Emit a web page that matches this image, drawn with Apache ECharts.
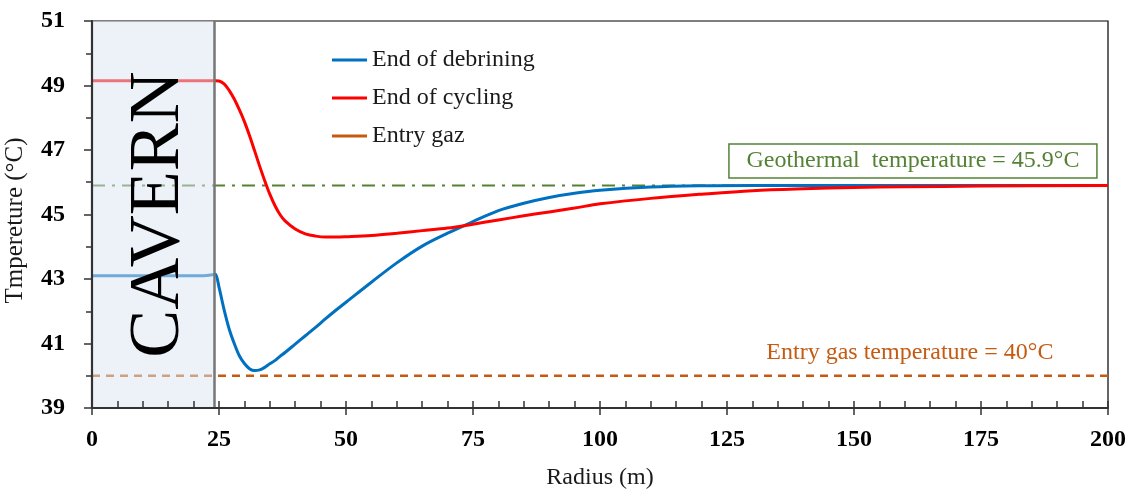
<!DOCTYPE html>
<html>
<head>
<meta charset="utf-8">
<script src="https://cdn.jsdelivr.net/npm/echarts@6/dist/echarts.min.js"></script>
<style>
  html, body { margin: 0; padding: 0; background: #ffffff; }
  #chart { width: 1134px; height: 492px; }
</style>
</head>
<body>
<div id="chart"></div>
<script>
// Radial temperature profiles around the cavern (radius in m, temperature in °C)
const radius = [0, 22, 24, 24.3, 25, 26, 27, 28, 29, 30, 31, 32, 33, 34, 35, 36, 37, 38, 40, 42, 44, 46, 48, 50,
  55, 60, 65, 70, 75, 80, 85, 90, 95, 100, 110, 120, 130, 140, 150, 160, 175, 200];
const debrining = [43.1, 43.1, 43.14, 43.15, 42.75, 42.05, 41.45, 41.0, 40.62, 40.38, 40.22, 40.16, 40.18, 40.26,
  40.37, 40.47, 40.6, 40.72, 40.98, 41.24, 41.5, 41.77, 42.03, 42.28,
  42.9, 43.5, 44.02, 44.42, 44.78, 45.12, 45.35, 45.53, 45.66, 45.75, 45.85, 45.89, 45.9, 45.9, 45.9, 45.9, 45.9, 45.9];
const cycling = [49.15, 49.15, 49.15, 49.15, 49.14, 49.05, 48.85, 48.58, 48.25, 47.88, 47.45, 46.98, 46.5, 46.05,
  45.63, 45.28, 45.0, 44.8, 44.55, 44.4, 44.33, 44.3, 44.3, 44.31,
  44.35, 44.42, 44.5, 44.58, 44.7, 44.83, 44.96, 45.08, 45.2, 45.33, 45.5, 45.63, 45.74, 45.8, 45.84, 45.86, 45.88, 45.9];
const entryGasTemp = 40;
const geothermalTemp = 45.9;
const cavernRadius = 24;
const xRange = [0, 200];
const yRange = [39, 51];
const seriesNames = ['End of debrining', 'End of cycling', 'Entry gaz'];
const geoLabel = 'Geothermal  temperature = ' + geothermalTemp + '°C';
const entryLabel = 'Entry gas temperature = ' + entryGasTemp + '°C';

const SERIF = '"Liberation Serif", "Times New Roman", serif';
const toPairs = (xs, ys) => xs.map((x, i) => [x, ys[i]]);

const chart = echarts.init(document.getElementById('chart'), null, { renderer: 'canvas' });

const option = {
  animation: false,
  backgroundColor: '#ffffff',
  grid: {
    left: 92, right: 26, top: 21, bottom: 84,
    containLabel: false,
    outerBoundsMode: 'none',
    show: true,
    borderColor: '#000000',
    borderWidth: 1.2,
    backgroundColor: 'transparent'
  },
  legend: {
    orient: 'vertical',
    left: 327,
    top: 43,
    itemWidth: 35,
    itemHeight: 3,
    itemGap: 14,
    icon: 'rect',
    data: seriesNames,
    selectedMode: false,
    textStyle: { fontFamily: SERIF, fontSize: 24, color: '#1a1a1a', lineHeight: 24 }
  },
  xAxis: [
    {
      type: 'value', min: xRange[0], max: xRange[1], interval: 25, z: 10,
      name: 'Radius (m)', nameLocation: 'middle', nameGap: 58,
      nameTextStyle: { fontFamily: SERIF, fontSize: 24, color: '#1a1a1a' },
      axisLine: { show: true, onZero: false, lineStyle: { color: '#333333', width: 2.2 } },
      axisTick: { show: true, inside: false, length: 7, lineStyle: { color: '#333333', width: 1.5 } },
      axisLabel: { margin: 20, fontFamily: SERIF, fontWeight: 'bold', fontSize: 24, color: '#000000' },
      splitLine: { show: false }
    },
    {
      // inner minor ticks every 5 m
      type: 'value', min: xRange[0], max: xRange[1], interval: 5, position: 'bottom', z: 10,
      axisLine: { show: false, onZero: false },
      axisTick: { show: true, inside: true, length: 7, lineStyle: { color: '#333333', width: 1.5 } },
      axisLabel: { show: false },
      splitLine: { show: false }
    }
  ],
  yAxis: {
    type: 'value', min: yRange[0], max: yRange[1], interval: 2, z: 10,
    name: 'Tmpereture (°C)', nameLocation: 'middle', nameGap: 64,
    nameTextStyle: { fontFamily: SERIF, fontSize: 25, color: '#1a1a1a', padding: [0, 12, 0, 0] },
    axisLine: { show: true, onZero: false, lineStyle: { color: '#333333', width: 2.2 } },
    axisTick: { show: true, inside: false, length: 8, lineStyle: { color: '#333333', width: 1.5 } },
    minorTick: { show: true, splitNumber: 2, length: 6, lineStyle: { color: '#333333', width: 1.5 } },
    axisLabel: { margin: 27, fontFamily: SERIF, fontWeight: 'bold', fontSize: 24, color: '#000000' },
    splitLine: { show: false }
  },
  series: [
    {
      name: seriesNames[0], type: 'line', data: toPairs(radius, debrining),
      showSymbol: false, smooth: 0.35, z: 3,
      itemStyle: { color: '#0070C0' },
      lineStyle: { color: '#0070C0', width: 3 }
    },
    {
      name: seriesNames[1], type: 'line', data: toPairs(radius, cycling),
      showSymbol: false, smooth: 0.35, z: 3,
      itemStyle: { color: '#FF0000' },
      lineStyle: { color: '#FF0000', width: 3 }
    },
    {
      name: seriesNames[2], type: 'line', data: [[xRange[0], entryGasTemp], [xRange[1], entryGasTemp]],
      showSymbol: false, z: 2,
      itemStyle: { color: '#C55A11' },
      lineStyle: { color: '#C55A11', width: 2.5, type: [8, 6] }
    },
    {
      name: 'Geothermal', type: 'line', data: [[xRange[0], geothermalTemp], [xRange[1], geothermalTemp]],
      showSymbol: false, z: 2,
      itemStyle: { color: '#548235' },
      lineStyle: { color: '#548235', width: 2.2, type: [13, 7, 3, 7] }
    },
    {
      // cavern zone, laid over the curves
      name: 'Cavern', type: 'line', data: [], z: 6,
      markArea: {
        silent: true, z: 8,
        itemStyle: { color: 'rgba(219,229,243,0.5)' },
        data: [[{ xAxis: xRange[0], yAxis: yRange[0] }, { xAxis: cavernRadius, yAxis: yRange[1] }]]
      },
      markLine: {
        silent: true, symbol: 'none', z: 9,
        label: { show: false },
        lineStyle: { color: '#767676', width: 2.5, type: 'solid' },
        data: [{ xAxis: cavernRadius }]
      }
    }
  ]
};
chart.setOption(option);

// Text annotations placed in data coordinates
const cavernPos = chart.convertToPixel({ gridIndex: 0 }, [cavernRadius / 2 + 1.2, 45.0]);
const geoPos = chart.convertToPixel({ gridIndex: 0 }, [161.6, geothermalTemp + 0.76]);
const entryPos = chart.convertToPixel({ gridIndex: 0 }, [161, entryGasTemp + 0.71]);

chart.setOption({
  graphic: [
    {
      type: 'text', x: cavernPos[0], y: cavernPos[1], rotation: Math.PI / 2, z: 100,
      style: { text: 'CAVERN', fill: '#000000', font: '72px ' + SERIF, textAlign: 'center', textVerticalAlign: 'middle' }
    },
    {
      type: 'rect', z: 100,
      shape: { x: geoPos[0] - 184, y: geoPos[1] - 17, width: 368, height: 34 },
      style: { fill: '#ffffff', stroke: '#548235', lineWidth: 1.5 }
    },
    {
      type: 'text', x: geoPos[0], y: geoPos[1], z: 101,
      style: { text: geoLabel, fill: '#548235', font: '24px ' + SERIF, textAlign: 'center', textVerticalAlign: 'middle' }
    },
    {
      type: 'text', x: entryPos[0], y: entryPos[1], z: 101,
      style: { text: entryLabel, fill: '#C55A11', font: '24px ' + SERIF, textAlign: 'center', textVerticalAlign: 'middle' }
    }
  ]
});
</script>
</body>
</html>
